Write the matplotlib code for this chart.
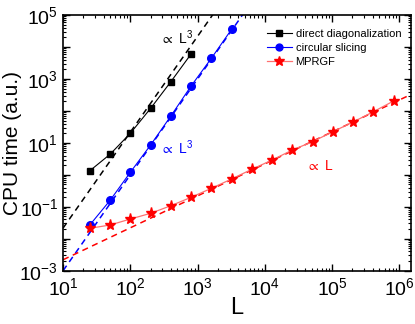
import matplotlib
matplotlib.use("Agg")
import matplotlib.pyplot as plt
import numpy as np

# system sizes
L_dd = [25, 50, 100, 200, 400, 800]
L_cs = [25, 50, 100, 200, 400, 800, 1600, 3200]
L_mp = [25, 50, 100, 200, 400, 800, 1600, 3200, 6400, 12800, 25600,
        51200, 102400, 204800, 409600, 819200]

# CPU times (a.u.)
t_dd = [1.34, 4.4, 19.9, 120, 818, 6030]
t_cs = [0.027, 0.159, 1.2, 8.55, 69, 601, 4420, 35700]
t_mp = [0.0212, 0.0269, 0.0414, 0.0624, 0.108, 0.198, 0.378, 0.74, 1.49,
        2.9, 5.97, 10.9, 22.3, 44.9, 94, 204]

# guide lines: prefactor, exponent
guide_dd = (2.16e-5, 3)
guide_cs = (1.0e-6, 3)
guide_mp = (2.2e-4, 1)

plt.rcParams['font.family'] = ['Liberation Sans', 'DejaVu Sans']
plt.rcParams['mathtext.default'] = 'regular'

fig = plt.figure(figsize=(4.15, 3.24), dpi=100)
ax = fig.add_axes([0.152, 0.1645, 0.8376, 0.7892])

xmin, xmax = 10, 1.47e6
Lg = np.logspace(np.log10(xmin), np.log10(xmax), 200)

ax.plot(Lg, guide_dd[0] * Lg**guide_dd[1], 'k--', lw=1.1, dashes=(4, 3))
ax.plot(Lg, guide_cs[0] * Lg**guide_cs[1], '--', color='blue', lw=1.1, dashes=(4, 3))
ax.plot(Lg, guide_mp[0] * Lg**guide_mp[1], '--', color='red', lw=1.1, dashes=(4, 3))

ax.plot(L_dd, t_dd, '-', color='black', lw=0.8, marker='s', markersize=4.5,
        label='direct diagonalization')
ax.plot(L_cs, t_cs, '-', color='blue', lw=0.8, marker='o', markersize=5.5,
        label='circular slicing')
ax.plot(L_mp, t_mp, '-', color='#ff7070', lw=0.9, marker='*', markersize=8,
        markerfacecolor='red', markeredgecolor='red', label='MPRGF')

ax.set_xscale('log')
ax.set_yscale('log')
ax.set_xlim(xmin, xmax)
ax.set_ylim(1e-3, 1e5)

ax.set_xticks([10.0**k for k in range(1, 7)])
ax.set_xticklabels([r'$10^{%d}$' % k for k in range(1, 7)])
yk = list(range(-3, 6))
ax.set_yticks([10.0**k for k in yk])
ax.set_yticklabels([r'$10^{%d}$' % k if k % 2 else '' for k in yk])
ax.xaxis.set_minor_locator(matplotlib.ticker.LogLocator(base=10, subs=np.arange(2, 10), numticks=20))
ax.yaxis.set_minor_locator(matplotlib.ticker.LogLocator(base=10, subs=np.arange(2, 10), numticks=20))
ax.xaxis.set_minor_formatter(matplotlib.ticker.NullFormatter())
ax.yaxis.set_minor_formatter(matplotlib.ticker.NullFormatter())

ax.tick_params(which='both', direction='in', top=True, right=True, labelsize=14)
ax.tick_params(which='major', length=5, width=1)
ax.tick_params(which='minor', length=2.5, width=0.8)
ax.tick_params(axis='x', pad=5)
for s in ax.spines.values():
    s.set_linewidth(1.2)

ax.set_xlabel('L', fontsize=17, labelpad=-2)
ax.set_ylabel('CPU time (a.u.)', fontsize=15)
ax.yaxis.set_label_coords(-0.118, 0.5)

ax.text(0.28, 0.91, r'$\propto$ L$^3$', transform=ax.transAxes, fontsize=10, color='black', va='center')
ax.text(0.28, 0.48, r'$\propto$ L$^3$', transform=ax.transAxes, fontsize=10, color='blue', va='center')
ax.text(0.70, 0.41, r'$\propto$ L', transform=ax.transAxes, fontsize=10, color='red', va='center')

ax.legend(loc='upper right', frameon=False, fontsize=8, handlelength=2.3,
          handletextpad=0.3, labelspacing=0.35, borderaxespad=0.3,
          markerscale=0.9, bbox_to_anchor=(0.995, 0.975))

fig.savefig('out.png', dpi=100)
